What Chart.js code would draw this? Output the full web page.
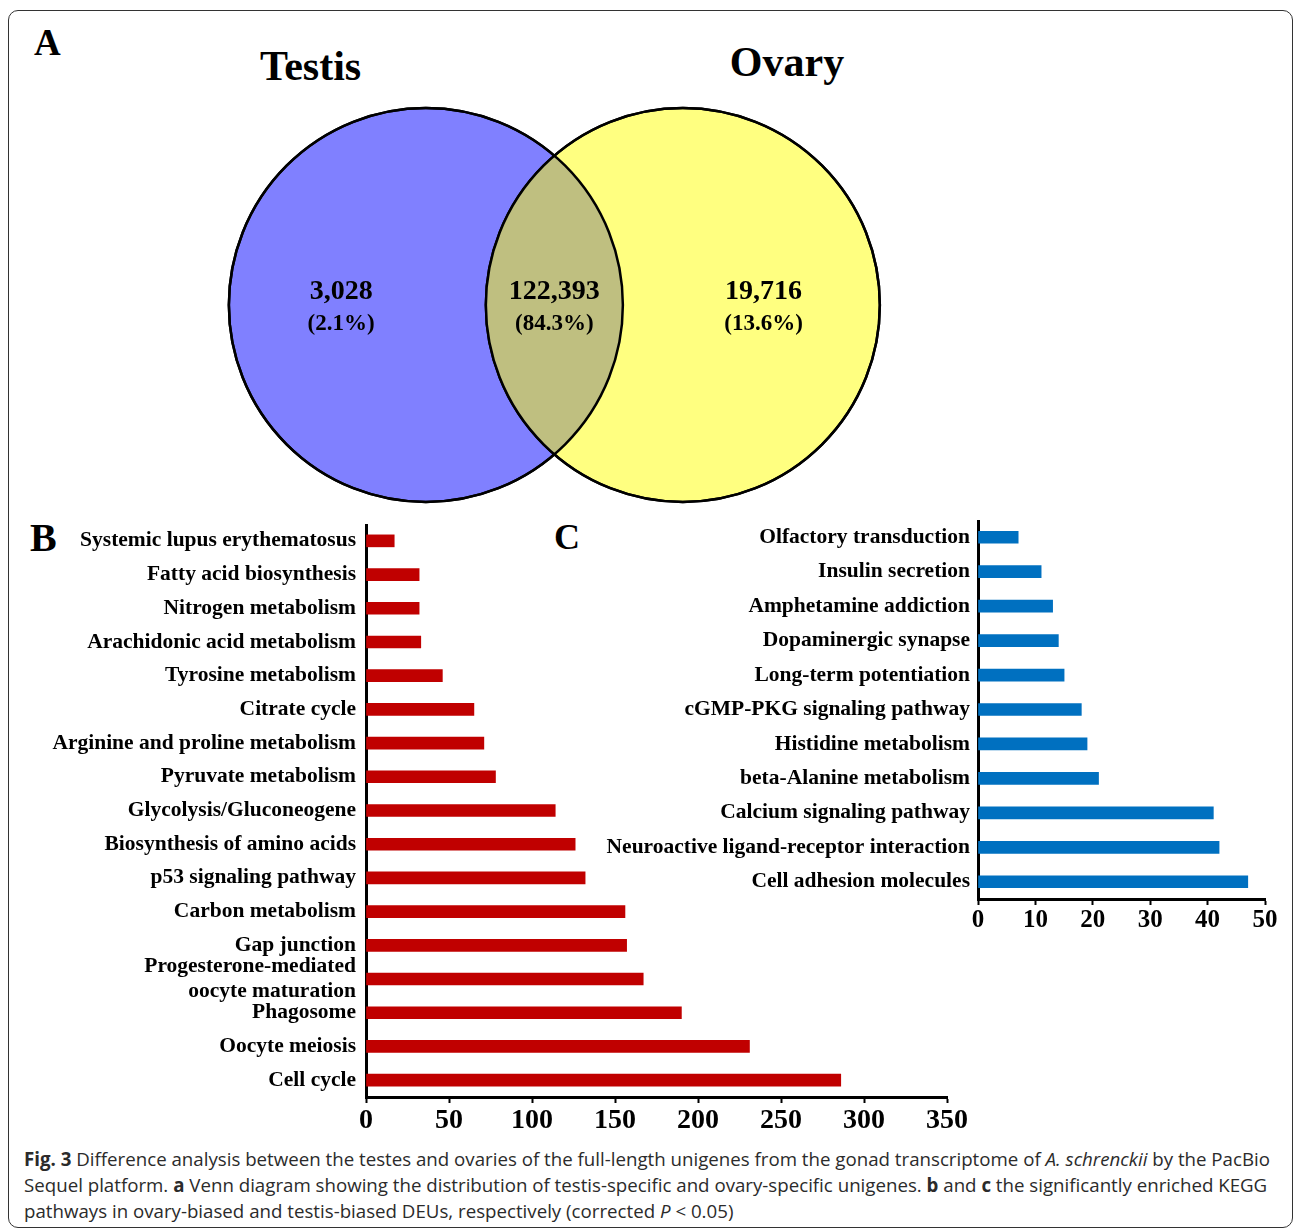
<!DOCTYPE html>
<html>
<head>
<meta charset="utf-8">
<script src="https://cdn.jsdelivr.net/npm/chart.js@4.4.1/dist/chart.umd.min.js"></script>
<style>
  body { margin: 0; background: #fff; width: 1295px; height: 1230px; position: relative; overflow: hidden; }
  #frame { position: absolute; left: 8px; top: 10px; width: 1285px; height: 1218px; border: 1.5px solid #333; border-radius: 10px; box-sizing: border-box; }
  .lbl { position: absolute; font-family: "Liberation Serif", "Times New Roman", serif; font-weight: bold; line-height: 1; color: #000; white-space: nowrap; }
  canvas { position: absolute; }
  #caption { position: absolute; left: 24px; top: 1146px; font-family: "Open Sans", sans-serif; font-size: 18.7px; line-height: 26px; color: #2b2b2b; }
  #caption div { white-space: nowrap; }
</style>
</head>
<body>
<div id="frame"></div>

<div class="lbl" style="left:34px;top:24px;font-size:37px;">A</div>
<div class="lbl" style="left:260px;top:45px;width:100px;text-align:center;font-size:42px;">Testis</div>
<div class="lbl" style="left:727px;top:41px;width:120px;text-align:center;font-size:42px;">Ovary</div>
<div class="lbl" style="left:30px;top:518px;font-size:40px;">B</div>
<div class="lbl" style="left:554px;top:519px;font-size:36px;">C</div>

<canvas id="venn" style="left:210px;top:95px;" width="690" height="420"></canvas>
<canvas id="chartB" style="left:20px;top:524px;" width="952" height="616"></canvas>
<canvas id="chartC" style="left:560px;top:520px;" width="730" height="419"></canvas>

<div id="caption">
  <div><b>Fig. 3</b> Difference analysis between the testes and ovaries of the full-length unigenes from the gonad transcriptome of <i>A. schrenckii</i> by the PacBio</div>
  <div>Sequel platform. <b>a</b> Venn diagram showing the distribution of testis-specific and ovary-specific unigenes. <b>b</b> and <b>c</b> the significantly enriched KEGG</div>
  <div>pathways in ovary-biased and testis-biased DEUs, respectively (corrected <i>P</i> &lt; 0.05)</div>
</div>

<script>
// Venn (A): testis-only, shared, ovary-only
const vennSets = ['Testis', 'Ovary'];
const vennCounts = [3028, 122393, 19716];
const vennPercents = [2.1, 84.3, 13.6];

// KEGG pathways in ovary-biased DEUs (B)
const ovaryPathways = [
  'Systemic lupus erythematosus', 'Fatty acid biosynthesis', 'Nitrogen metabolism',
  'Arachidonic acid metabolism', 'Tyrosine metabolism', 'Citrate cycle',
  'Arginine and proline metabolism', 'Pyruvate metabolism', 'Glycolysis/Gluconeogene',
  'Biosynthesis of amino acids', 'p53 signaling pathway', 'Carbon metabolism',
  'Gap junction', ['Progesterone-mediated', 'oocyte maturation'], 'Phagosome',
  'Oocyte meiosis', 'Cell cycle'
];
const ovaryCounts = [17, 32, 32, 33, 46, 65, 71, 78, 114, 126, 132, 156, 157, 167, 190, 231, 286];
const ovaryTicks = [0, 50, 100, 150, 200, 250, 300, 350];

// KEGG pathways in testis-biased DEUs (C)
const testisPathways = [
  'Olfactory transduction', 'Insulin secretion', 'Amphetamine addiction',
  'Dopaminergic synapse', 'Long-term potentiation', 'cGMP-PKG signaling pathway',
  'Histidine metabolism', 'beta-Alanine metabolism', 'Calcium signaling pathway',
  'Neuroactive ligand-receptor interaction', 'Cell adhesion molecules'
];
const testisCounts = [7, 11, 13, 14, 15, 18, 19, 21, 41, 42, 47];
const testisTicks = [0, 10, 20, 30, 40, 50];

const serif = 'Liberation Serif';

// shade the overlap, redraw outlines, write region numbers
const vennPlugin = {
  id: 'vennOverlap',
  afterDatasetsDraw(chart) {
    const ctx = chart.ctx;
    const pts = chart.getDatasetMeta(0).data;
    const a = pts[0], b = pts[1];
    const r = a.options.radius;
    ctx.save();
    ctx.beginPath();
    ctx.arc(a.x, a.y, r, 0, Math.PI * 2);
    ctx.clip();
    ctx.beginPath();
    ctx.arc(b.x, b.y, r, 0, Math.PI * 2);
    ctx.fillStyle = '#BFBF80';
    ctx.fill();
    ctx.restore();

    ctx.save();
    ctx.lineWidth = 2.5;
    ctx.strokeStyle = '#000';
    [a, b].forEach(p => {
      ctx.beginPath();
      ctx.arc(p.x, p.y, r, 0, Math.PI * 2);
      ctx.stroke();
    });

    const xs = [a.x - r * 0.43, (a.x + b.x) / 2, b.x + r * 0.41];
    ctx.fillStyle = '#000';
    ctx.textAlign = 'center';
    ctx.textBaseline = 'middle';
    vennCounts.forEach((c, i) => {
      ctx.font = 'bold 28px "' + serif + '"';
      ctx.fillText(c.toLocaleString('en-US'), xs[i], a.y - 13);
      ctx.font = 'bold 23px "' + serif + '"';
      ctx.fillText('(' + vennPercents[i].toFixed(1) + '%)', xs[i], a.y + 19);
    });
    ctx.restore();
  }
};

new Chart(document.getElementById('venn'), {
  type: 'scatter',
  data: {
    datasets: [{
      data: vennSets.map((s, i) => ({ x: i, y: 0 })),
      pointRadius: 197,
      pointHoverRadius: 197,
      pointBackgroundColor: ['#8080FF', '#FFFF80'],
      pointBorderColor: '#000',
      pointBorderWidth: 2.5,
      clip: false
    }]
  },
  options: {
    responsive: false,
    animation: false,
    events: [],
    layout: { padding: 0, autoPadding: false },
    scales: {
      x: { display: false, min: -0.84, max: 1.845 },
      y: { display: false, min: -1, max: 1 }
    },
    plugins: { legend: { display: false }, tooltip: { enabled: false } }
  },
  plugins: [vennPlugin]
});

function barOptions(ticks, yWidth, tickSize, xHeight, labelPad) {
  return {
    indexAxis: 'y',
    responsive: false,
    animation: false,
    events: [],
    layout: { padding: { top: 0, right: 25, bottom: 0, left: 0 }, autoPadding: false },
    scales: {
      x: {
        min: ticks[0],
        max: ticks[ticks.length - 1],
        afterBuildTicks: scale => { scale.ticks = ticks.map(v => ({ value: v })); },
        afterFit: scale => { scale.height = xHeight; },
        grid: { display: true, drawOnChartArea: false, drawTicks: true, tickLength: 6, tickWidth: 2, tickColor: '#000' },
        border: { display: true, color: '#000', width: 3 },
        ticks: { color: '#000', padding: 1, maxRotation: 0, autoSkip: false, font: { family: serif, weight: 'bold', size: tickSize } }
      },
      y: {
        afterFit: scale => {
          scale.width = yWidth;
          scale.paddingTop = 0;
          scale.paddingBottom = 0;
        },
        grid: { display: false, drawTicks: false },
        border: { display: true, color: '#000', width: 3 },
        ticks: { color: '#000', padding: labelPad, autoSkip: false, font: { family: serif, weight: 'bold', size: 21.5 } }
      }
    },
    plugins: { legend: { display: false }, tooltip: { enabled: false } }
  };
}

new Chart(document.getElementById('chartB'), {
  type: 'bar',
  data: {
    labels: ovaryPathways,
    datasets: [{ data: ovaryCounts, backgroundColor: '#C00000', barThickness: 12 }]
  },
  options: barOptions(ovaryTicks, 346, 28, 43, 10)
});

new Chart(document.getElementById('chartC'), {
  type: 'bar',
  data: {
    labels: testisPathways,
    datasets: [{ data: testisCounts, backgroundColor: '#0070C0', barThickness: 12 }]
  },
  options: barOptions(testisTicks, 418, 25, 40, 8)
});
</script>
</body>
</html>
